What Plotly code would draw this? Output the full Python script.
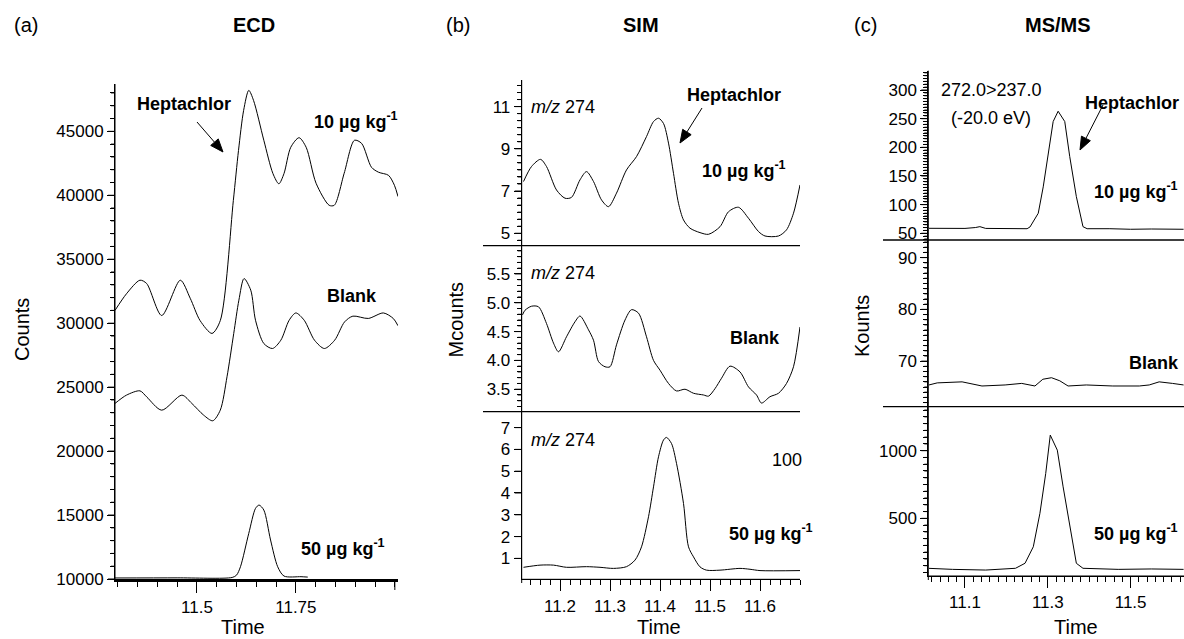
import math
import plotly.graph_objects as go

FONT = "Liberation Sans, Arial, Helvetica, sans-serif"
W, H = 1184, 639

# ---------------- DATA ----------------
# (a) ECD
ecd_10_t = [11.293, 11.322, 11.356, 11.373, 11.411, 11.458, 11.483, 11.508, 11.538, 11.559,
            11.592, 11.605, 11.618, 11.631, 11.643, 11.669, 11.692, 11.707, 11.720, 11.737,
            11.758, 11.776, 11.801, 11.834, 11.847, 11.872, 11.898, 11.916, 11.941, 11.959,
            11.984, 11.999, 12.008]
ecd_10_y = [31000, 32300, 33360, 33100, 30600, 33360, 31950, 30200, 29200, 30200,
            39600, 43500, 46640, 48200, 47420, 44300, 41700, 40900, 41700, 43750,
            44500, 43750, 40940, 39220, 39220, 41720, 44300, 44060, 42190, 41800,
            41560, 40780, 39900]
ecd_blank_t = [11.293, 11.322, 11.356, 11.373, 11.411, 11.462, 11.487, 11.517, 11.540, 11.559,
               11.576, 11.593, 11.606, 11.619, 11.636, 11.648, 11.669, 11.691, 11.712, 11.733,
               11.750, 11.771, 11.797, 11.822, 11.848, 11.873, 11.894, 11.933, 11.971, 11.996,
               12.008]
ecd_blank_y = [23727, 24375, 24710, 24240, 23200, 24375, 23730, 22810, 22370, 23200,
               25810, 29200, 31800, 33490, 32580, 30230, 28410, 28020, 28670, 30230,
               30800, 30230, 28670, 28020, 28670, 30100, 30550, 30370, 30800, 30370,
               29800]
ecd_50_t = [11.293, 11.45, 11.589, 11.600, 11.610, 11.631, 11.648, 11.657, 11.669, 11.686,
            11.704, 11.720, 11.763, 11.78]
ecd_50_y = [10080, 10090, 10120, 10300, 10960, 13570, 15520, 15780, 15390, 13050,
            10960, 10230, 10180, 10150]

# (b) SIM m/z 274
sim_10_t = [11.127, 11.143, 11.161, 11.173, 11.193, 11.210, 11.223, 11.240, 11.253, 11.267,
            11.283, 11.297, 11.313, 11.333, 11.353, 11.373, 11.387, 11.397, 11.407, 11.417,
            11.427, 11.437, 11.447, 11.460, 11.480, 11.497, 11.520, 11.537, 11.557, 11.577,
            11.597, 11.610, 11.637, 11.653, 11.667, 11.680]
sim_10_y = [7.45, 8.16, 8.50, 8.16, 7.05, 6.66, 6.70, 7.53, 7.92, 7.45,
            6.58, 6.26, 6.90, 8.00, 8.63, 9.58, 10.29, 10.45, 10.20, 9.27,
            7.84, 6.42, 5.63, 5.24, 5.03, 4.95, 5.31, 6.02, 6.23, 5.71,
            5.08, 4.87, 4.87, 5.16, 5.95, 7.29]
sim_blank_t = [11.125, 11.130, 11.143, 11.157, 11.173, 11.187, 11.197, 11.213, 11.230, 11.240,
               11.257, 11.267, 11.277, 11.290, 11.300, 11.313, 11.330, 11.343, 11.357, 11.373,
               11.387, 11.400, 11.417, 11.433, 11.450, 11.467, 11.487, 11.497, 11.510, 11.523,
               11.540, 11.560, 11.577, 11.593, 11.603, 11.620, 11.637, 11.653, 11.667, 11.680]
sim_blank_y = [4.79, 4.87, 4.94, 4.93, 4.64, 4.30, 4.15, 4.41, 4.67, 4.77,
               4.53, 4.35, 3.98, 3.89, 3.89, 4.27, 4.70, 4.88, 4.82, 4.41,
               4.00, 3.83, 3.60, 3.47, 3.50, 3.43, 3.40, 3.38, 3.51, 3.69,
               3.90, 3.80, 3.54, 3.40, 3.26, 3.37, 3.43, 3.60, 3.89, 4.58]
sim_50_t = [11.127, 11.160, 11.187, 11.213, 11.253, 11.280, 11.307, 11.333, 11.350, 11.363,
            11.377, 11.387, 11.397, 11.407, 11.413, 11.423, 11.433, 11.447, 11.457, 11.467,
            11.480, 11.493, 11.520, 11.560, 11.580, 11.600, 11.680]
sim_50_y = [0.59, 0.69, 0.69, 0.59, 0.62, 0.59, 0.54, 0.62, 0.92, 1.53,
            2.91, 4.28, 5.66, 6.43, 6.55, 6.27, 5.36, 3.52, 1.53, 1.07,
            0.61, 0.46, 0.46, 0.54, 0.50, 0.44, 0.44]

# (c) MS/MS 272.0>237.0
ms_10_t = [11.013, 11.060, 11.100, 11.125, 11.136, 11.150, 11.200, 11.250, 11.257, 11.277,
           11.289, 11.301, 11.313, 11.325, 11.341, 11.353, 11.369, 11.385, 11.395, 11.450,
           11.500, 11.550, 11.600, 11.628]
ms_10_y = [58.7, 58.0, 58.5, 60.0, 61.6, 58.5, 58.0, 58.0, 61.0, 85.0,
           131.0, 190.0, 245.0, 263.0, 245.0, 184.0, 114.0, 61.6, 58.0, 58.0,
           57.0, 57.5, 57.5, 57.0]
ms_blank_t = [11.013, 11.033, 11.093, 11.141, 11.197, 11.237, 11.269, 11.288, 11.309, 11.329,
              11.349, 11.393, 11.457, 11.521, 11.545, 11.569, 11.601, 11.628]
ms_blank_y = [65.4, 65.8, 66.0, 65.2, 65.4, 65.7, 65.2, 66.5, 66.8, 66.2,
              65.2, 65.4, 65.2, 65.2, 65.4, 66.0, 65.7, 65.4]
ms_50_t = [11.013, 11.070, 11.150, 11.222, 11.245, 11.265, 11.281, 11.295, 11.306, 11.323,
           11.337, 11.353, 11.369, 11.385, 11.470, 11.550, 11.628]
ms_50_y = [130.7, 123.0, 118.0, 131.0, 168.0, 290.0, 537.0, 832.0, 1115.0, 1004.0,
           733.0, 438.0, 168.0, 131.0, 123.0, 126.0, 123.0]

# tick values
a_yticks = [10000, 15000, 20000, 25000, 30000, 35000, 40000, 45000]
b1_yticks = [1, 2, 3, 4, 5, 6, 7]
b2_yticks = [3.5, 4.0, 4.5, 5.0, 5.5]
b3_yticks = [5, 7, 9, 11]
c1_yticks = [500, 1000]
c2_yticks = [70, 80, 90]
c3_yticks = [50, 100, 150, 200, 250, 300]

# ---------------- helpers ----------------
def px(x):
    return x / W


def py(y):
    return 1 - y / H


BLACK = "black"
fig = go.Figure()

def add(t, v, xa, ya, shape="spline"):
    fig.add_trace(go.Scatter(x=t, y=v, mode="lines", xaxis=xa, yaxis=ya,
                             line=dict(color=BLACK, width=1, shape=shape, smoothing=0.8),
                             showlegend=False, hoverinfo="skip"))

add(ecd_10_t, ecd_10_y, "x", "y")
add(ecd_blank_t, ecd_blank_y, "x", "y")
add(ecd_50_t, ecd_50_y, "x", "y")
add(sim_10_t, sim_10_y, "x4", "y4")
add(sim_blank_t, sim_blank_y, "x3", "y3")
add(sim_50_t, sim_50_y, "x2", "y2")
add(ms_10_t, ms_10_y, "x7", "y7", "linear")
add(ms_blank_t, ms_blank_y, "x6", "y6", "linear")
add(ms_50_t, ms_50_y, "x5", "y5", "linear")

tickfont = dict(family=FONT, size=17, color=BLACK)

def fmt(v):
    return ("%.1f" % v) if isinstance(v, float) else str(v)


def yax(domain, rng, tickvals, anchor, minor=None):
    d = dict(domain=domain, range=rng, anchor=anchor, showline=True, linecolor=BLACK,
             linewidth=1, ticks="outside", ticklen=7, tickwidth=1, tickcolor=BLACK,
             tickvals=tickvals, ticktext=[fmt(v) for v in tickvals], tickfont=tickfont,
             showgrid=False, zeroline=False, fixedrange=True)
    if minor is not None:
        d["minor"] = dict(tick0=minor[0], dtick=minor[1], ticks="outside",
                          ticklen=4, tickwidth=1, tickcolor=BLACK, showgrid=False)
    return d


def xax(domain, rng, anchor, tickvals=None, ticktext=None, minor=None, visible=True, lw=1):
    if not visible:
        return dict(domain=domain, range=rng, anchor=anchor, visible=False, fixedrange=True)
    d = dict(domain=domain, range=rng, anchor=anchor, showline=True, linecolor=BLACK,
             linewidth=lw, ticks="outside", ticklen=11, tickwidth=1, tickcolor=BLACK,
             tickvals=tickvals, ticktext=ticktext, tickfont=tickfont,
             showgrid=False, zeroline=False, fixedrange=True)
    if minor is not None:
        d["minor"] = dict(tick0=minor[0], dtick=minor[1], ticks="outside",
                          ticklen=5, tickwidth=1, tickcolor=BLACK, showgrid=False)
    return d

# geometry (pixels)
AX_A, AX_B, AX_C = 115, 521.7, 928.3
a_x = [px(AX_A), px(398)]
a_y = [py(579), py(84)]
b_x = [px(AX_B), px(800)]
b_y1 = [py(579.3), py(411.7)]
b_y2 = [py(411.7), py(245.7)]
b_y3 = [py(245.7), py(80)]
c_x = [px(AX_C), 1.0]
c_y1 = [py(576), py(406.7)]
c_y2 = [py(406.7), py(240)]
c_y3 = [py(240), py(70.7)]

a_rng = [10000, 48700]
b1_rng, b2_rng, b3_rng = [0.04, 7.73], [3.11, 5.99], [4.41, 12.26]
c1_rng, c2_rng, c3_rng = [74, 1325], [61.2, 93.4], [38.3, 333.7]
bx_rng = [11.1234, 11.68]
cx_rng = [11.0114, 11.629]

MINORS = {
    "y": (10000, 1000), "y3": (3.2, 0.1), "y4": (5, 1 / 3),
    "y5": (100, 50), "y6": (62, 1), "y7": (40, 5),
}

layout = dict(
    template="none",
    width=W, height=H, margin=dict(l=0, r=0, t=0, b=0, pad=0, autoexpand=False),
    paper_bgcolor="white", plot_bgcolor="white",
    font=dict(family=FONT, color=BLACK),
    xaxis=xax(a_x, [11.293, 12.008], "y", [11.5, 11.75], ["11.5", "11.75"],
              minor=(11.3, 0.05), lw=2.5),
    yaxis=yax(a_y, a_rng, a_yticks, "x", MINORS["y"]),
    xaxis2=xax(b_x, bx_rng, "y2", [11.2, 11.3, 11.4, 11.5, 11.6],
               ["11.2", "11.3", "11.4", "11.5", "11.6"], minor=(11.14, 0.02)),
    yaxis2=yax(b_y1, b1_rng, b1_yticks, "x2"),
    xaxis3=xax(b_x, bx_rng, "y3", visible=False),
    yaxis3=yax(b_y2, b2_rng, b2_yticks, "x3", MINORS["y3"]),
    xaxis4=xax(b_x, bx_rng, "y4", visible=False),
    yaxis4=yax(b_y3, b3_rng, b3_yticks, "x4", MINORS["y4"]),
    xaxis5=xax(c_x, cx_rng, "y5", [11.1, 11.3, 11.5], ["11.1", "11.3", "11.5"],
               minor=(11.02, 0.02)),
    yaxis5=yax(c_y1, c1_rng, c1_yticks, "x5", MINORS["y5"]),
    xaxis6=xax(c_x, cx_rng, "y6", visible=False),
    yaxis6=yax(c_y2, c2_rng, c2_yticks, "x6", MINORS["y6"]),
    xaxis7=xax(c_x, cx_rng, "y7", visible=False),
    yaxis7=yax(c_y3, c3_rng, c3_yticks, "x7", MINORS["y7"]),
)
fig.update_layout(**layout)

shapes = []

def pline(x0, y0, x1, y1, w=1.0):
    shapes.append(dict(type="line", xref="paper", yref="paper", x0=px(x0), x1=px(x1),
                       y0=py(y0), y1=py(y1), line=dict(color=BLACK, width=w)))

# separators between stacked chromatograms
for yy in (245.7, 411.7):
    pline(483, yy, 800, yy, 1.3)
for yy in (240, 406.7):
    pline(883, yy, W, yy, 1.3)

# axis spines (drawn explicitly so they always show)
pline(AX_A, 84, AX_A, 580)
pline(AX_B, 80, AX_B, 583)
pline(AX_C, 70.7, AX_C, 580)
pline(AX_B, 579.3, 800, 579.3)
pline(AX_C, 576, W, 576)


def yticks(yref, axis_px, rng, majors, minor=None):
    for v in majors:
        shapes.append(dict(type="line", xref="paper", yref=yref, x0=px(axis_px - 7), x1=px(axis_px),
                           y0=v, y1=v, line=dict(color=BLACK, width=1)))
    if minor is not None:
        t0, dt = minor
        k0 = math.ceil((rng[0] - t0) / dt - 1e-9)
        k1 = math.floor((rng[1] - t0) / dt + 1e-9)
        for k in range(k0, k1 + 1):
            v = t0 + k * dt
            if any(abs(v - m) < dt * 0.01 for m in majors):
                continue
            shapes.append(dict(type="line", xref="paper", yref=yref, x0=px(axis_px - 4),
                               x1=px(axis_px), y0=v, y1=v, line=dict(color=BLACK, width=1)))

yticks("y", AX_A, a_rng, a_yticks, MINORS["y"])
yticks("y2", AX_B, b1_rng, b1_yticks)
yticks("y3", AX_B, b2_rng, b2_yticks, MINORS["y3"])
yticks("y4", AX_B, b3_rng, b3_yticks, MINORS["y4"])
yticks("y5", AX_C, c1_rng, c1_yticks, MINORS["y5"])
yticks("y6", AX_C, c2_rng, c2_yticks, MINORS["y6"])
yticks("y7", AX_C, c3_rng, c3_yticks, MINORS["y7"])
# long tick at 12.0 on the ECD time axis
shapes.append(dict(type="line", xref="x", yref="paper", x0=12.0, x1=12.0, y0=py(579), y1=py(590),
                   line=dict(color=BLACK, width=1)))


def arrow(tx, ty, hx, hy, head_len=13, head_half=5):
    dx, dy = hx - tx, hy - ty
    L = math.hypot(dx, dy)
    ux, uy = dx / L, dy / L
    bx, by = hx - head_len * ux, hy - head_len * uy
    nx, ny = -uy, ux
    pline(tx, ty, bx, by)
    p1 = (bx + head_half * nx, by + head_half * ny)
    p2 = (bx - head_half * nx, by - head_half * ny)
    path = "M {:.5f} {:.5f} L {:.5f} {:.5f} L {:.5f} {:.5f} Z".format(
        px(hx), py(hy), px(p1[0]), py(p1[1]), px(p2[0]), py(p2[1]))
    shapes.append(dict(type="path", xref="paper", yref="paper", path=path,
                       fillcolor=BLACK, line=dict(color=BLACK, width=1)))

arrow(197, 122, 223, 152)
arrow(702, 108, 680, 143)
arrow(1103, 105, 1080, 150)
fig.update_layout(shapes=shapes)

ann = []

def text(x, y, s, size=18, bold=False, xanchor="left", angle=0):
    if bold:
        s = "<b>" + s + "</b>"
    ann.append(dict(x=px(x), y=py(y), xref="paper", yref="paper", text=s, showarrow=False,
                    xanchor=xanchor, yanchor="middle", textangle=angle,
                    font=dict(family=FONT, size=size, color=BLACK)))

KG = "µg kg<sup>-1</sup>"
# panel titles
text(12, 25, "(a)", 20)
text(254, 25, "ECD", 20, True, "center")
text(444, 25, "(b)", 20)
text(641, 25, "SIM", 20, True, "center")
text(852, 25, "(c)", 20)
text(1058, 25, "MS/MS", 20, True, "center")
# axis titles
text(22, 330, "Counts", 20, xanchor="center", angle=-90)
text(455.5, 320, "Mcounts", 20, xanchor="center", angle=-90)
text(862, 326, "Kounts", 20, xanchor="center", angle=-90)
text(242.5, 627, "Time", 20, xanchor="center")
text(659, 627, "Time", 20, xanchor="center")
text(1076, 627, "Time", 20, xanchor="center")
# (a)
text(135, 104, "Heptachlor", 18, True)
text(312, 120, "10 " + KG, 18, True)
text(325, 296, "Blank", 18, True)
text(299, 547, "50 " + KG, 18, True)
# (b)
text(529, 107, "<i>m/z</i> 274", 18)
text(529, 273, "<i>m/z</i> 274", 18)
text(529, 440, "<i>m/z</i> 274", 18)
text(685, 95, "Heptachlor", 18, True)
text(700, 169, "10 " + KG, 18, True)
text(728, 338, "Blank", 18, True)
text(770, 460, "100", 18)
text(727, 532, "50 " + KG, 18, True)
# (c)
text(991, 90, "272.0&gt;237.0", 18, xanchor="center")
text(991, 118, "(-20.0 eV)", 18, xanchor="center")
text(1083, 103, "Heptachlor", 18, True)
text(1092, 190, "10 " + KG, 18, True)
text(1127, 363, "Blank", 18, True)
text(1092, 532, "50 " + KG, 18, True)

fig.update_layout(annotations=ann)
fig.write_html("out.html")
